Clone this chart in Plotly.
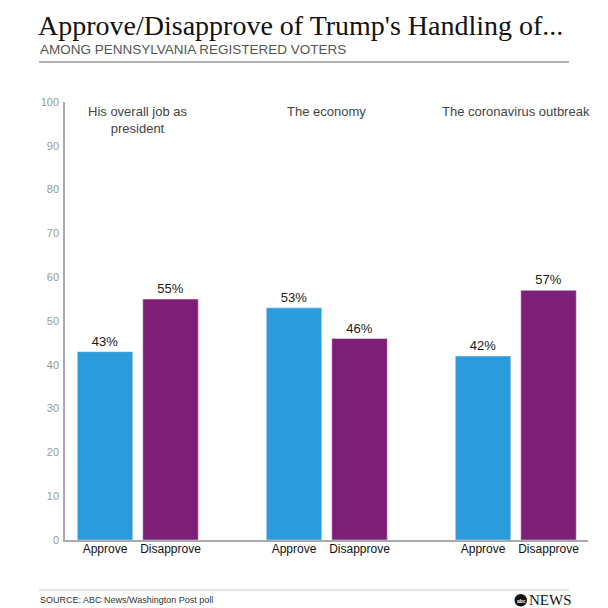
import plotly.graph_objects as go

# ---- data ----
topics = ["His overall job as<br>president", "The economy", "The coronavirus outbreak"]
responses = ["Approve", "Disapprove"]
approve = [43, 53, 42]
disapprove = [55, 46, 57]
y_ticks = [0, 10, 20, 30, 40, 50, 60, 70, 80, 90, 100]

title_text = "Approve/Disapprove of Trump's Handling of..."
subtitle_text = "AMONG PENNSYLVANIA REGISTERED VOTERS"
source_text = "SOURCE: ABC News/Washington Post poll"

# ---- style ----
BLUE = "#2C9BDC"
PURPLE = "#7E1F77"
PAGE_OFF = 8          # browser default body margin
W, H = 600, 600
# plot area in screen pixels: x 65..588, y 102..540
SL, SR, ST, SB = 65, 588, 102, 540
ML = SL - PAGE_OFF
MT = ST - PAGE_OFF
MR = W - (SR - PAGE_OFF)
MB = H - (SB - PAGE_OFF)
BARGAP = 0.307
BARGROUPGAP = 0.153

PW = SR - SL
PH = SB - ST


def px_x(X):
    return (X - SL) / PW


def px_y(Y):
    return (SB - Y) / PH


groups = list(range(len(topics)))
off = (1 - BARGAP) / 4
tickvals = []
ticktext = []
for g in groups:
    tickvals += [g - off, g + off]
    ticktext += responses

fig = go.Figure()
fig.add_trace(go.Bar(
    x=groups, y=approve, name="Approve", marker_color=BLUE,
    text=[f"{v}%" for v in approve], textposition="outside",
    textfont=dict(size=13, color="#1a1a1a"), cliponaxis=False,
))
fig.add_trace(go.Bar(
    x=groups, y=disapprove, name="Disapprove", marker_color=PURPLE,
    text=[f"{v}%" for v in disapprove], textposition="outside",
    textfont=dict(size=13, color="#1a1a1a"), cliponaxis=False,
))

annotations = []
for g, t in zip(groups, topics):
    annotations.append(dict(
        x=g, y=1, xref="x", yref="paper", text=t, showarrow=False,
        xanchor="center", yanchor="top", align="center",
        font=dict(size=13, color="#444"),
    ))

annotations.append(dict(
    x=px_x(38), y=px_y(49), xref="paper", yref="paper", text=subtitle_text,
    showarrow=False, xanchor="left", yanchor="middle",
    font=dict(size=13.5, color="#555"),
))
annotations.append(dict(
    x=px_x(38), y=px_y(600), xref="paper", yref="paper", text=source_text,
    showarrow=False, xanchor="left", yanchor="middle",
    font=dict(size=9, color="#333"),
))
annotations.append(dict(
    x=px_x(527), y=px_y(600), xref="paper", yref="paper", text="NEWS",
    showarrow=False, xanchor="left", yanchor="middle",
    font=dict(size=15, color="#111", family="Liberation Serif"),
))
annotations.append(dict(
    x=px_x(521), y=px_y(600.5), xref="paper", yref="paper", text="<b>abc</b>",
    showarrow=False, xanchor="center", yanchor="middle",
    font=dict(size=5, color="white"),
))

shapes = [
    dict(type="line", xref="paper", yref="paper", x0=px_x(39), x1=px_x(569),
         y0=px_y(62), y1=px_y(62), line=dict(color="#999", width=1.5)),
    dict(type="line", xref="paper", yref="paper", x0=px_x(39), x1=px_x(569),
         y0=px_y(590), y1=px_y(590), line=dict(color="#ccc", width=1)),
    dict(type="circle", xref="paper", yref="paper", x0=px_x(514.5), x1=px_x(527),
         y0=px_y(606.5), y1=px_y(594), fillcolor="#111", line=dict(width=0)),
]

fig.update_layout(
    width=W, height=H,
    margin=dict(l=ML, r=MR, t=MT, b=MB),
    paper_bgcolor="white", plot_bgcolor="white",
    font=dict(family="Liberation Sans, Arial, sans-serif"),
    barmode="group", bargap=BARGAP, bargroupgap=BARGROUPGAP,
    showlegend=False,
    title=dict(
        text=title_text, xref="container", yref="container",
        x=(38 - PAGE_OFF) / W, xanchor="left", y=1 - (25 - PAGE_OFF) / H, yanchor="middle",
        font=dict(family="Liberation Serif, Times New Roman, serif", size=28, color="#111"),
    ),
    xaxis=dict(
        range=[-0.385, 2.382], tickmode="array", tickvals=tickvals, ticktext=ticktext,
        showline=True, linecolor="#aaa", linewidth=1.5, showgrid=False, zeroline=False,
        ticks="", tickfont=dict(size=12, color="#111"), ticklabelstandoff=-3,
        fixedrange=True,
    ),
    yaxis=dict(
        range=[0, 100], tickmode="array", tickvals=y_ticks,
        showline=True, linecolor="#aaa", linewidth=1.5, showgrid=False, zeroline=False,
        ticks="", tickfont=dict(size=11, color="#999"), ticklabelstandoff=2,
    ),
    annotations=annotations,
    shapes=shapes,
)

fig.write_html("out.html")
